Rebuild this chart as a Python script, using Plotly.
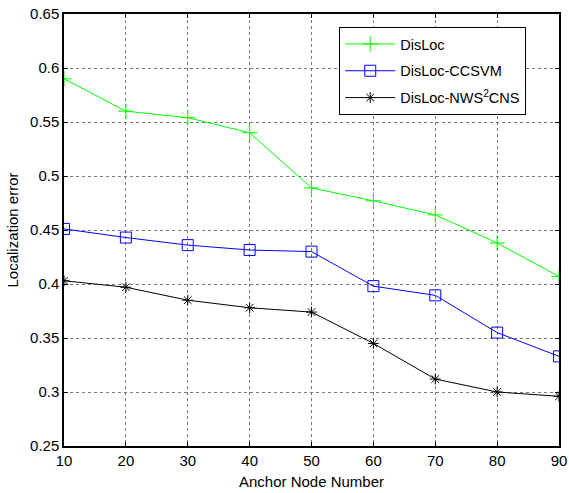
import plotly.graph_objects as go

anchors = [10, 20, 30, 40, 50, 60, 70, 80, 90]
disloc = [0.590, 0.560, 0.554, 0.540, 0.489, 0.477, 0.464, 0.438, 0.407]
disloc_ccsvm = [0.451, 0.443, 0.436, 0.4315, 0.430, 0.398, 0.3895, 0.355, 0.333]
disloc_nws2cns = [0.403, 0.397, 0.385, 0.378, 0.374, 0.345, 0.312, 0.300, 0.296]
y_ticks = [0.25, 0.3, 0.35, 0.4, 0.45, 0.5, 0.55, 0.6, 0.65]
y_ticklabels = ["0.25", "0.3", "0.35", "0.4", "0.45", "0.5", "0.55", "0.6", "0.65"]

FONT = "Liberation Sans, Arial, sans-serif"

fig = go.Figure()
fig.add_trace(go.Scatter(x=anchors, y=disloc, name="DisLoc", mode="lines+markers", legendgroup="a",
                         line=dict(color="#00ff00", width=1),
                         marker=dict(symbol="cross-thin-open", size=11, color="#00ff00",
                                     line=dict(color="#00ff00", width=1))))
fig.add_trace(go.Scatter(x=anchors, y=disloc_ccsvm, name="DisLoc-CCSVM", mode="lines+markers", legendgroup="b",
                         line=dict(color="#0000ff", width=1),
                         marker=dict(symbol="square-open", size=11, color="#0000ff",
                                     line=dict(color="#0000ff", width=1))))
fig.add_trace(go.Scatter(x=anchors, y=disloc_nws2cns, name="DisLoc-NWS<sup>2</sup>CNS", mode="lines+markers",
                         legendgroup="c",
                         line=dict(color="#000000", width=1),
                         marker=dict(symbol="asterisk-open", size=9, color="#000000",
                                     line=dict(color="#000000", width=1))))

axis_common = dict(showline=True, linecolor="black", linewidth=1.5, mirror="allticks",
                   ticks="inside", ticklen=4, tickcolor="black", automargin=False,
                   showgrid=True, gridcolor="#777777", gridwidth=1, griddash="dot",
                   zeroline=False, tickfont=dict(family=FONT, size=15, color="black"))

fig.update_xaxes(range=[10, 90], tickvals=anchors, ticktext=[str(a) for a in anchors],
                 title=dict(text="Anchor Node Number", font=dict(family=FONT, size=15, color="black"), standoff=9),
                 **axis_common)
fig.update_yaxes(range=[0.25, 0.65], tickvals=y_ticks, ticktext=y_ticklabels,
                 title=dict(text="Localization error", font=dict(family=FONT, size=15, color="black"), standoff=8),
                 **axis_common)

fig.update_layout(
    width=569, height=493,
    margin=dict(l=64, r=10, t=14, b=47),
    plot_bgcolor="white", paper_bgcolor="white",
    font=dict(family=FONT, size=14, color="black"),
    legend=dict(x=0.556, y=0.97, xanchor="left", yanchor="top",
                bordercolor="black", borderwidth=1, bgcolor="white",
                font=dict(family=FONT, size=14.5, color="black"),
                itemwidth=50, traceorder="grouped", tracegroupgap=5),
    showlegend=True,
)

fig.write_html("out.html", config={"displayModeBar": False},
               post_script="document.body.style.margin='0';document.body.style.overflow='hidden';")
